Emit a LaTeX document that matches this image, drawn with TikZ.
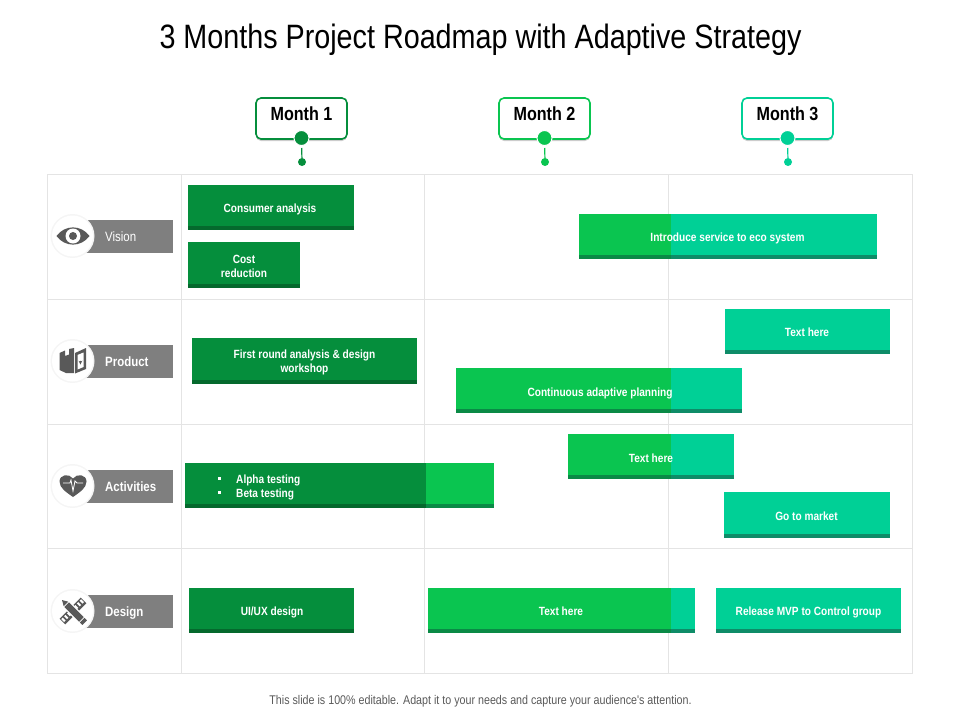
\documentclass[tikz,border=0pt]{standalone}
\usepackage{fontspec}
\setmainfont{Liberation Sans}
\newfontfamily\narrowfont[FakeStretch=0.85]{Liberation Sans}
\usetikzlibrary{shadows}
\definecolor{roadA}{RGB}{5,142,60}
\definecolor{roadAdk}{RGB}{5,105,45}
\definecolor{roadB}{RGB}{10,197,80}
\definecolor{roadBdk}{RGB}{10,138,70}
\definecolor{roadC}{RGB}{0,208,150}
\definecolor{roadCdk}{RGB}{14,140,104}
\definecolor{gridcol}{RGB}{228,228,228}
\definecolor{tagcol}{RGB}{127,127,127}
\definecolor{iconcol}{RGB}{89,89,89}
% body and darker foot of one bar: colour, x1, y1, x2, y2
\newcommand{\roadbar}[5]{%
  \fill[#1] (#2,#3) rectangle (#4,#5);
  \fill[#1dk] (#2,#5-4) rectangle (#4,#5);
}
\tikzset{
  bartext/.style={text=white, font=\narrowfont\bfseries\fontsize{11.9}{14}\selectfont, align=center, inner sep=0pt},
  barline/.style={bartext, text height=8pt, text depth=0pt},
  monthbox/.style={rounded corners=5pt, fill=white, line width=1.6pt, minimum width=91pt, minimum height=41pt,
    drop shadow={shadow xshift=0pt, shadow yshift=-2pt, opacity=0.2, fill=black},
    font=\narrowfont\bfseries\fontsize{19}{22}\selectfont},
  monthdot/.style={circle, draw=white, line width=1pt, minimum size=15pt, inner sep=0pt},
  monthtip/.style={circle, minimum size=8pt, inner sep=0pt},
  tagtext/.style={text=white, anchor=west, inner sep=0pt, text height=9.5pt, text depth=0pt},
}

\begin{document}
\begin{tikzpicture}[x=1pt, y=-1pt]
    \useasboundingbox (0,0) rectangle (960,720);

    \node[font=\fontsize{33.8}{38}\selectfont\narrowfont, inner sep=0pt] (title) at (480.5,40)
      {3 Months Project Roadmap with Adaptive Strategy};

    %% grid
    \draw[gridcol, line width=1pt] (47.5,174) rectangle (912,673);
    \foreach \xg in {181,424.5,668.5}
      \draw[gridcol, line width=1pt] (\xg,174) -- (\xg,673);
    \foreach \yg in {299,424,548.5}
      \draw[gridcol, line width=1pt] (47.5,\yg) -- (912,\yg);

    %% month headers
    \foreach \i/\xc/\col in {1/301.5/roadA, 2/544.5/roadB, 3/787.5/roadC} {
      \node[monthbox, draw=\col] (month\i) at (\xc,118.5) {\raisebox{9pt}{Month \i}};
      \node[monthdot, fill=\col] (dot\i) at (\xc,138) {};
      \node[monthtip, fill=\col] (tip\i) at (\xc+0.5,162) {};
      \draw[\col, line width=1.2pt, shorten <=2pt] (dot\i) -- (tip\i);
    }

    %% row tags
    \foreach \i/\yc/\lbl/\wgt in {1/236/Vision/\mdseries, 2/361/Product/\bfseries,
                                  3/486/Activities/\bfseries, 4/611/Design/\bfseries} {
      \fill[tagcol] (72,\yc-16.5) rectangle (173,\yc+16.5);
      \node[circle, fill=gray!8, minimum size=44pt, inner sep=0pt] (badge\i) at (72.5,\yc) {};
      \fill[white] (badge\i.center) circle (20.5);
      \node[tagtext, font=\narrowfont\wgt\fontsize{13.5}{16}\selectfont] (tag\i) at (105,\yc+0.8) {\lbl};
    }

    %% eye
    \fill[iconcol] (56.5,236) .. controls (65,224.5) and (81,224.5) .. (89.5,236)
      .. controls (81,247.5) and (65,247.5) .. (56.5,236) -- cycle;
    \fill[white] (73,236) circle (7.5);
    \fill[iconcol] (73,236) circle (4);

    %% box with heart card
    \fill[iconcol] (59.5,353) -- (65,350.5) -- (65,356) -- (69,354.5) -- (69,349) -- (74,348)
      -- (74,373) -- (66,373) -- (59.5,370) -- cycle;
    \fill[iconcol] (75,353) -- (86,348) -- (86,369) -- (75,373.5) -- cycle;
    \fill[white] (77.5,355) -- (83.5,352.5) -- (83.5,367) -- (77.5,369.5) -- cycle;
    \fill[iconcol] (80.5,364.5) -- (78.5,360.5) arc[start angle=180, end angle=20, radius=1]
      arc[start angle=160, end angle=0, radius=1] -- cycle;

    %% heart with pulse
    \fill[iconcol] (73,497) .. controls (66,492) and (59.5,488) .. (59.5,481.5)
      .. controls (59.5,474.5) and (69,473) .. (73,478.5)
      .. controls (77,473) and (86.5,474.5) .. (86.5,481.5)
      .. controls (86.5,488) and (80,492) .. (73,497) -- cycle;
    \draw[white, line width=0.8pt] (63,483) -- (70,483) -- (71,480) -- (73,491) -- (75,481) -- (77,483) -- (83,483);

    %% ruler and pencil
    \begin{scope}[shift={(73,611)}, rotate=45]
      \fill[iconcol] (-15,-4) rectangle (15,4);
      \foreach \xt in {-13,-9,-5,5,9,13}
        \fill[white] (\xt-1,-2.5) rectangle (\xt+1,1.5);
    \end{scope}
    \begin{scope}[shift={(73,611)}, rotate=-45]
      \fill[white] (-14,-4.5) rectangle (17,4.5);
      \fill[iconcol] (-9,-3.2) rectangle (12,3.2);
      \fill[iconcol] (13,-3.2) rectangle (16.5,3.2);
      \fill[iconcol] (-10,-3.2) -- (-15.5,0) -- (-10,3.2) -- cycle;
    \end{scope}

    %% bars, first row
    \roadbar{roadA}{188}{185}{354}{230}
    \roadbar{roadA}{188}{242}{300}{288}
    \roadbar{roadB}{579}{214}{671}{259}
    \roadbar{roadC}{671}{214}{877}{259}
    \node[barline] (consumer) at (270,208) {Consumer analysis};
    \node[bartext] (cost) at (244,266) {Cost\\reduction};
    \node[barline] (service) at (727.5,237) {Introduce service to eco system};

    %% second row
    \roadbar{roadA}{192}{338}{417}{384}
    \roadbar{roadC}{725}{309}{890}{354}
    \roadbar{roadB}{456}{368}{671}{413}
    \roadbar{roadC}{671}{368}{742}{413}
    \node[bartext] (firstround) at (304.5,362) {First round analysis \& design\\workshop};
    \node[barline] (textone) at (807,332) {Text here};
    \node[barline] (planning) at (600,392) {Continuous adaptive planning};

    %% third row
    \roadbar{roadB}{568}{434}{671}{479}
    \roadbar{roadC}{671}{434}{734}{479}
    \roadbar{roadA}{185}{463}{426}{508}
    \roadbar{roadB}{426}{463}{494}{508}
    \roadbar{roadC}{724}{492}{890}{538}
    \node[barline] (texttwo) at (651,458) {Text here};
    \node[barline, anchor=west] (alpha) at (236,479.5) {Alpha testing};
    \node[barline, anchor=west] (beta) at (236,493.5) {Beta testing};
    \fill[white] (217.5,477) rectangle (220.5,480);
    \fill[white] (217.5,491) rectangle (220.5,494);
    \node[barline] (market) at (806.5,516) {Go to market};

    %% fourth row
    \roadbar{roadA}{189}{588}{354}{633}
    \roadbar{roadB}{428}{588}{671}{633}
    \roadbar{roadC}{671}{588}{695}{633}
    \roadbar{roadC}{716}{588}{901}{633}
    \node[barline] (uiux) at (272,611) {UI/UX design};
    \node[barline] (textthree) at (561,611) {Text here};
    \node[barline] (release) at (808.5,611) {Release MVP to Control group};

    \node[text=iconcol, inner sep=0pt, font=\fontsize{12.6}{15}\selectfont\narrowfont] (footer) at (480.5,701)
      {This slide is 100\% editable. Adapt it to your needs and capture your audience's attention.};

  \end{tikzpicture}
\end{document}
